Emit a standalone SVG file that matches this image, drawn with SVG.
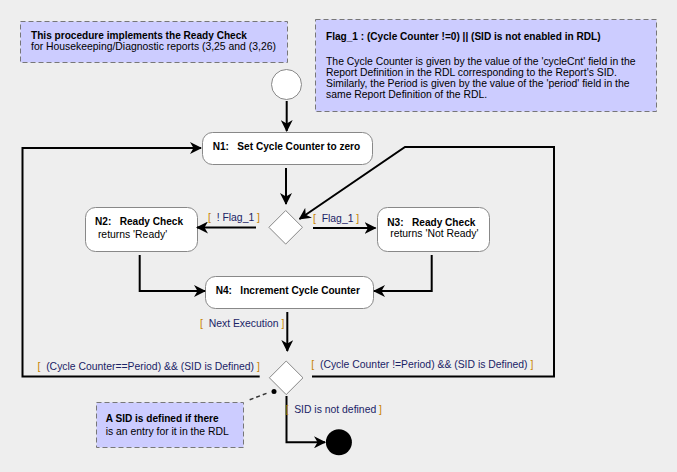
<svg xmlns="http://www.w3.org/2000/svg" width="677" height="472" viewBox="0 0 677 472">
<style>
.t{font-family:"Liberation Sans",Arial,sans-serif;font-size:10.4px;fill:#000;white-space:pre}
.b{font-weight:bold;font-size:10.1px}
.note{fill:#ccccff;stroke:#777;stroke-width:1;stroke-dasharray:5,3}
.node{fill:#fff;stroke:#888;stroke-width:1}
.edge{fill:none;stroke:#000;stroke-width:2}
.br{fill:#c88400}
.lb{fill:#1a2366}
</style>
<defs>
<marker id="ah" viewBox="0 0 12 12" markerWidth="12" markerHeight="12" refX="11" refY="6" orient="auto" markerUnits="userSpaceOnUse">
<path d="M0,0 L12,6 L0,12 L3.5,6 z" fill="#000"/>
</marker>
</defs>
<rect width="677" height="472" fill="#eeeeee"/>

<g id="note1">
<rect class="note" x="20.5" y="21.5" width="267" height="41"/>
<text class="t b" x="31" y="39.4">This procedure implements the Ready Check</text>
<text class="t" x="31" y="50.4">for Housekeeping/Diagnostic reports (3,25 and (3,26)</text>
</g>

<g id="note2">
<rect class="note" x="315.5" y="19.5" width="341" height="92"/>
<text class="t b" x="326" y="39.7">Flag_1 : (Cycle Counter !=0) || (SID is not enabled in RDL)</text>
<text class="t" x="326" y="65.3">The Cycle Counter is given by the value of the 'cycleCnt' field in the</text>
<text class="t" x="326" y="76.1">Report Definition in the RDL corresponding to the Report's SID.</text>
<text class="t" x="326" y="86.9">Similarly, the Period is given by the value of the 'period' field in the</text>
<text class="t" x="326" y="97.7">same Report Definition of the RDL.</text>
</g>

<g id="start">
<circle class="node" cx="286.5" cy="84.5" r="15"/>
</g>

<g id="n1">
<rect class="node" x="202.5" y="132.5" width="170" height="32" rx="10"/>
<text class="t b" x="212.7" y="150.4">N1:   Set Cycle Counter to zero</text>
</g>

<g id="d1">
<polygon class="node" points="285.7,210.5 302.5,227.3 285.7,244.1 268.9,227.3"/>
</g>

<g id="n2">
<rect class="node" x="85.5" y="207.5" width="112" height="44" rx="10"/>
<text class="t b" x="95" y="225.4">N2:   Ready Check</text>
<text class="t" x="95" y="237.7"> returns 'Ready'</text>
</g>

<g id="n3">
<rect class="node" x="377.5" y="207.5" width="112" height="44" rx="10"/>
<text class="t b" x="387.3" y="226">N3:   Ready Check</text>
<text class="t" x="387.3" y="237.4"> returns 'Not Ready'</text>
</g>

<g id="n4">
<rect class="node" x="205.5" y="276.5" width="168" height="32" rx="10"/>
<text class="t b" x="215.7" y="294.4">N4:   Increment Cycle Counter</text>
</g>

<g id="d2">
<polygon class="node" points="286.2,361 303,377.8 286.2,394.6 269.4,377.8"/>
</g>

<g id="end">
<circle cx="338.9" cy="442.3" r="13" fill="#000"/>
</g>

<g id="note3">
<rect class="note" x="96.5" y="402.5" width="147" height="45"/>
<text class="t b" x="105.7" y="422.2">A SID is defined if there</text>
<text class="t" x="105.7" y="435">is an entry for it in the RDL</text>
</g>

<g id="connectors">
<path class="edge" d="M286.7,101 L286.7,131" marker-end="url(#ah)"/>
<path class="edge" d="M286,168 L286,204" marker-end="url(#ah)"/>
<path class="edge" d="M256,227.5 L197,227.5" marker-end="url(#ah)"/>
<path class="edge" d="M313,228 L375.5,228" marker-end="url(#ah)"/>
<path class="edge" d="M139.7,255 L139.7,291 L205,291" marker-end="url(#ah)"/>
<path class="edge" d="M431.7,255 L431.7,291 L374,291" marker-end="url(#ah)"/>
<path class="edge" d="M287.3,312 L287.3,351" marker-end="url(#ah)"/>
<path class="edge" d="M259.7,376.5 L22.5,376.5 L22.5,148 L201,148" marker-end="url(#ah)"/>
<path class="edge" d="M312,376.5 L554,376.5 L554,147 L405,147 L299.5,219" marker-end="url(#ah)"/>
<path class="edge" d="M286.5,396 L286.5,442.3 L325,442.3" marker-end="url(#ah)"/>
<circle cx="274" cy="391.6" r="2.5" fill="#000"/>
<path d="M266.5,393.4 L248.3,400.3" fill="none" stroke="#333" stroke-width="1.5" stroke-dasharray="4,3"/>
<text class="t" x="208" y="221"><tspan class="br">[</tspan><tspan class="lb">  ! Flag_1 </tspan><tspan class="br">]</tspan></text>
<text class="t" x="313" y="221.7"><tspan class="br">[</tspan><tspan class="lb">  Flag_1 </tspan><tspan class="br">]</tspan></text>
<text class="t" x="200" y="327"><tspan class="br">[</tspan><tspan class="lb">  Next Execution </tspan><tspan class="br">]</tspan></text>
<text class="t" x="37.5" y="369.5"><tspan class="br">[</tspan><tspan class="lb">  (Cycle Counter==Period) &amp;&amp; (SID is Defined) </tspan><tspan class="br">]</tspan></text>
<text class="t" x="311.3" y="367.7"><tspan class="br">[</tspan><tspan class="lb">  (Cycle Counter !=Period) &amp;&amp; (SID is Defined) </tspan><tspan class="br">]</tspan></text>
<text class="t" x="285.5" y="412.6"><tspan class="br">[</tspan><tspan class="lb">  SID is not defined </tspan><tspan class="br">]</tspan></text>
</g>
</svg>
